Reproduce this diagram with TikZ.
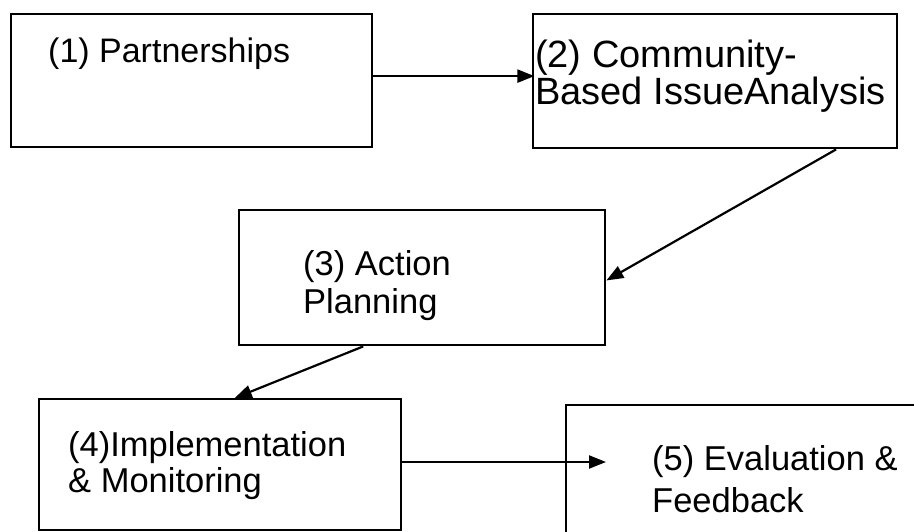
\documentclass[tikz,border=0pt]{standalone}
\usepackage{fontspec}
\setmainfont{Liberation Sans}
\usetikzlibrary{arrows.meta,calc}
\begin{document}
\begin{tikzpicture}[x=1pt,y=-1pt,
  box/.style={draw=black,line width=2.4pt,fill=none,anchor=north west,inner sep=0pt},
  lbl/.style={anchor=base west,inner sep=0pt,align=left,font=\fontsize{34.5}{38}\selectfont},
  conn/.style={draw=black,line width=2.2pt,-{Triangle[length=17pt,width=13pt]}}]
\useasboundingbox (0,0) rectangle (914,531);
\clip (0,0) rectangle (914,531);
\node[box,minimum width=361pt,minimum height=133pt] (b1) at (10,13) {};
\node[box,minimum width=364pt,minimum height=134pt] (b2) at (532,13) {};
\node[box,minimum width=366pt,minimum height=135pt] (b3) at (238,209) {};
\node[box,minimum width=362pt,minimum height=131pt] (b4) at (38,398) {};
\node[box,minimum width=370pt,minimum height=140pt] (b5) at (565,404) {};
\node[lbl,font=\fontsize{34}{38}\selectfont] (t1) at (48,62) {(1) Partnerships};
\node[lbl,font=\fontsize{38}{37}\selectfont] (t2) at (535,104) {(2) Community-\\Based IssueAnalysis};
\node[lbl,font=\fontsize{34.5}{38}\selectfont] (t3) at (303,313) {(3) Action\\Planning};
\node[lbl,font=\fontsize{34.5}{36}\selectfont] (t4) at (68,492) {(4)Implementation\\\& Monitoring};
\node[lbl,font=\fontsize{34.5}{42}\selectfont] (t5) at (652,512) {(5) Evaluation \&\\Feedback};
\coordinate (e5) at (606,462);
\draw[conn] ($(b1.north east)!0.466!(b1.south east)$) -- ++(161,0);
\draw[conn] ($(b2.south west)!0.83!(b2.south east)$) -- ($(b3.north east)!0.52!(b3.south east)$);
\draw[conn] ($(b3.south west)!0.34!(b3.south east)$) -- ($(b4.north west)!0.54!(b4.north east)$);
\draw[conn] (b4.east |- e5) -- (e5);
\end{tikzpicture}
\end{document}
